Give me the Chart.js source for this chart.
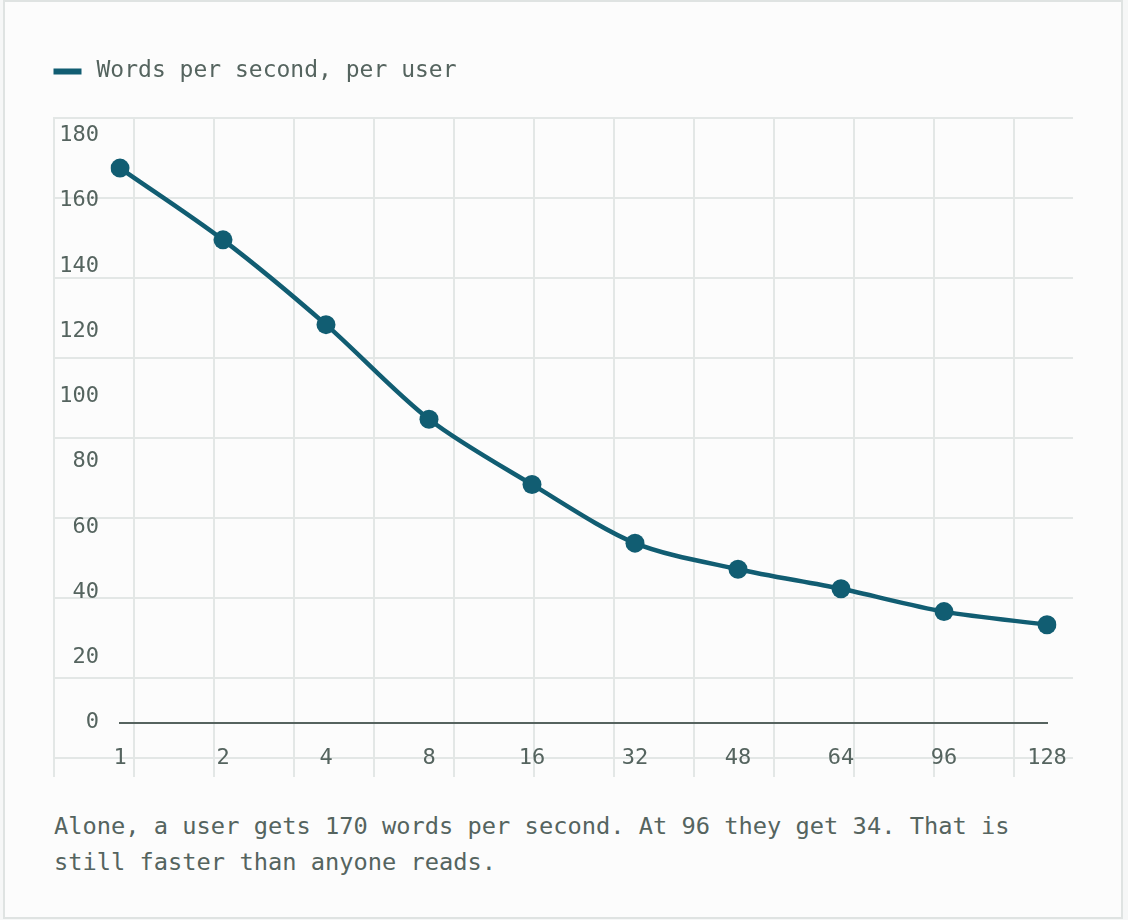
<!DOCTYPE html>
<html>
<head>
<meta charset="utf-8">
<script src="https://cdn.jsdelivr.net/npm/chart.js@4.4.1/dist/chart.umd.min.js"></script>
<style>
  html, body { margin: 0; padding: 0; width: 1128px; height: 920px; overflow: hidden; background: #f6f7f7; }
  #card { position: absolute; left: 3px; top: 0; width: 1120px; height: 919px; box-sizing: border-box;
          border: 2px solid #dfe3e2; background: #fcfcfc; }
  #grid { position: absolute; left: 53px; top: 117px; width: 1020px; height: 660px;
          background-image:
            linear-gradient(to right, #e3e7e6 0, #e3e7e6 2px, transparent 2px),
            linear-gradient(to bottom, #e3e7e6 0, #e3e7e6 2px, transparent 2px);
          background-size: 80px 80px; }
  #wrap { position: absolute; left: 40px; top: 50px; width: 1033px; height: 740px; }
  #caption { position: absolute; left: 54px; top: 809px; width: 1020px;
             font-family: 'DejaVu Sans Mono', monospace; font-size: 23.7px; line-height: 35.5px; color: #55645f; }
</style>
</head>
<body>
<div id="card"></div>
<div id="grid"></div>
<div id="wrap"><canvas id="c" width="1033" height="740"></canvas></div>
<div id="caption">Alone, a user gets 170 words per second. At 96 they get 34. That is still faster than anyone reads.</div>
<script>
// ---- data ----
const categories = ['1', '2', '4', '8', '16', '32', '48', '64', '96', '128'];
const wordsPerSecond = [170, 148, 122, 93, 73, 55, 47, 41, 34, 30];
const seriesLabel = 'Words per second, per user';
const yMin = 0;
const yMax = 180;
const yStep = 20;

// ---- style ----
const teal = '#115d72';
const textColor = '#55645f';
const axisColor = '#56635f';
const cardBg = '#fcfcfc';

Chart.defaults.font.family = "'DejaVu Sans Mono', monospace";

const legendSpacer = {
  id: 'legendSpacer',
  beforeInit(chart) {
    if (!chart.legend) return;
    const fit = chart.legend.fit;
    chart.legend.fit = function () { fit.call(this); this.height += 42.5; };
  }
};

new Chart(document.getElementById('c'), {
  type: 'line',
  data: {
    labels: categories,
    datasets: [{
      label: seriesLabel,
      data: wordsPerSecond,
      borderColor: teal,
      backgroundColor: teal,
      borderWidth: 4.5,
      pointRadius: 9.5,
      pointBackgroundColor: teal,
      pointBorderWidth: 0,
      tension: 0.3,
      fill: false
    }]
  },
  options: {
    responsive: false,
    animation: false,
    devicePixelRatio: 1,
    layout: { padding: { left: 0, right: 26, top: 0, bottom: 0 } },
    plugins: {
      legend: {
        display: true,
        position: 'top',
        align: 'start',
        labels: {
          boxWidth: 35,
          boxHeight: 13,
          padding: 10,
          color: textColor,
          font: { size: 23 },
          generateLabels(chart) {
            const items = Chart.defaults.plugins.legend.labels.generateLabels(chart);
            items.forEach(i => { i.fillStyle = teal; i.strokeStyle = cardBg; i.lineWidth = 7; });
            return items;
          }
        }
      },
      tooltip: { enabled: false }
    },
    scales: {
      x: {
        type: 'category',
        offset: false,
        grid: { display: false, drawTicks: false },
        border: { display: true, color: axisColor, width: 2 },
        ticks: { color: textColor, font: { size: 22 }, padding: 23, maxRotation: 0, autoSkip: false },
        afterFit(s) { s.height = 67.5; s.paddingLeft = 0; s.paddingRight = 0; }
      },
      y: {
        min: yMin,
        max: yMax,
        grid: { display: false, drawTicks: false },
        border: { display: false },
        ticks: { stepSize: yStep, color: textColor, font: { size: 22 }, padding: 21 },
        afterFit(s) { s.width = 80; s.paddingTop = 0; s.paddingBottom = 0; }
      }
    }
  },
  plugins: [legendSpacer]
});
</script>
</body>
</html>
